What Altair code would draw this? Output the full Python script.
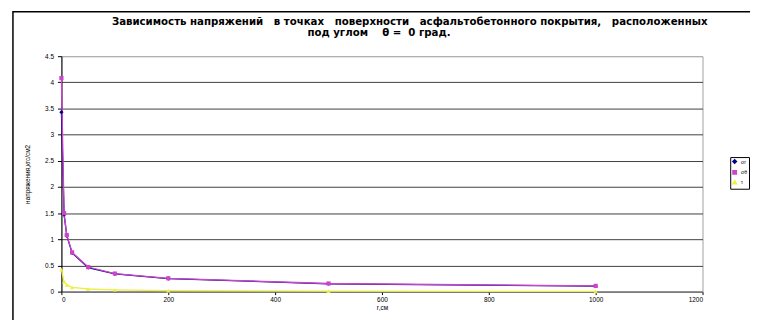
import altair as alt
import pandas as pd

r_vals = [0, 5, 10, 20, 50, 100, 200, 500, 1000]
s1 = [3.43, 1.47, 1.07, 0.74, 0.46, 0.34, 0.25, 0.15, 0.105]
s2 = [4.08, 1.50, 1.08, 0.75, 0.47, 0.345, 0.255, 0.155, 0.11]
s3 = [0.42, 0.19, 0.13, 0.08, 0.05, 0.035, 0.02, 0.01, 0.005]
names = ["σr", "σθ", "τ"]
colors = ["#000080", "#CC44CC", "#EEEE44"]
shapes = ["diamond", "square", "triangle-up"]
NB = "\u00a0"
title_lines = [
    f"Зависимость напряжений {NB}{NB}в точках {NB}{NB}поверхности {NB}{NB}асфальтобетонного покрытия, {NB}{NB}расположенных",
    f"под углом {NB}{NB}{NB}θ = {NB}0 град."]
x_ticks = [0, 200, 400, 600, 800, 1000, 1200]
y_ticks = [0.0, 0.5, 1.0, 1.5, 2.0, 2.5, 3.0, 3.5, 4.0, 4.5]

rows = []
for nm, vals in zip(names, [s1, s2, s3]):
    for r, v in zip(r_vals, vals):
        rows.append({"r": r, "v": v, "s": nm})
df = pd.DataFrame(rows)

W, H = 648, 238

xaxis = alt.Axis(values=x_ticks, title="r,см", format="d", labelOverlap=False,
                 grid=False, labelFontSize=6.5, titleFontSize=6.5,
                 titleFontWeight="normal", domainColor="#808080",
                 tickColor="#000000", tickSize=3, labelPadding=2,
                 titlePadding=2, labelFont="Liberation Sans",
                 titleFont="Liberation Sans", labelColor="#000")
yaxis = alt.Axis(values=y_ticks, tickCount=10, title="напряжения,кгс/см2", labelFontSize=6.5,
                 format="~g", labelOverlap=False,
                 titleFontSize=6.5, titleFontWeight="normal",
                 gridColor={"condition": {"test": "datum.value >= 4.5", "value": "#b0b0b0"},
                            "value": "#404040"},
                 gridWidth=1, domainColor="#000000", tickColor="#000000",
                 tickSize=4, labelPadding=4, titlePadding=14,
                 labelFont="Liberation Sans", titleFont="Liberation Sans",
                 labelColor="#000")
xscale = alt.Scale(domain=[0, 1200], nice=False)
yscale = alt.Scale(domain=[0, 4.5], nice=False)

color = alt.Color("s:N", scale=alt.Scale(domain=names, range=colors),
                  legend=alt.Legend(title=None, orient="none", legendX=W + 28, legendY=102,
                                    strokeColor="#000000", padding=2, labelFontSize=5,
                                    symbolSize=12, rowPadding=0, labelFont="Liberation Sans",
                                    fillColor="#ffffff"))
shape = alt.Shape("s:N", scale=alt.Scale(domain=names, range=shapes), legend=None)

lines = alt.Chart(df).mark_line(strokeWidth=1.3).encode(
    x=alt.X("r:Q", scale=xscale, axis=xaxis),
    y=alt.Y("v:Q", scale=yscale, axis=yaxis),
    color=color, order=alt.Order("r:Q"), detail="s:N")
points = alt.Chart(df).mark_point(filled=True, size=18, opacity=1).encode(
    x=alt.X("r:Q", scale=xscale, axis=xaxis),
    y=alt.Y("v:Q", scale=yscale, axis=yaxis),
    color=alt.Color("s:N", scale=alt.Scale(domain=names, range=colors), legend=None),
    shape=shape)

border = alt.Chart(pd.DataFrame({"a": [0]})).mark_rect(
    fill=None, stroke="#000000", strokeWidth=1.5).encode(
    x=alt.value(-49), x2=alt.value(W + 120), y=alt.value(-45), y2=alt.value(H + 60))

t1 = alt.Chart(pd.DataFrame({"t": [title_lines[0]]})).mark_text(
    fontSize=10.3, fontWeight="bold", font="DejaVu Sans", color="#000", align="center",
    baseline="middle").encode(text="t:N", x=alt.value(352), y=alt.value(-35))
t2 = alt.Chart(pd.DataFrame({"t": [title_lines[1]]})).mark_text(
    fontSize=10.3, fontWeight="bold", font="DejaVu Sans", color="#000", align="center",
    baseline="middle").encode(text="t:N", x=alt.value(321), y=alt.value(-23))

chart = alt.layer(border, lines, points, t1, t2).properties(
    width=W, height=H,
    autosize=alt.AutoSizeParams(type="none"),
    padding={"left": 54, "top": 47, "right": 48, "bottom": 27},
).configure_view(stroke="#a0a0a0", strokeWidth=1)

chart.save("out.html", embed_options={"renderer": "svg", "actions": False})
